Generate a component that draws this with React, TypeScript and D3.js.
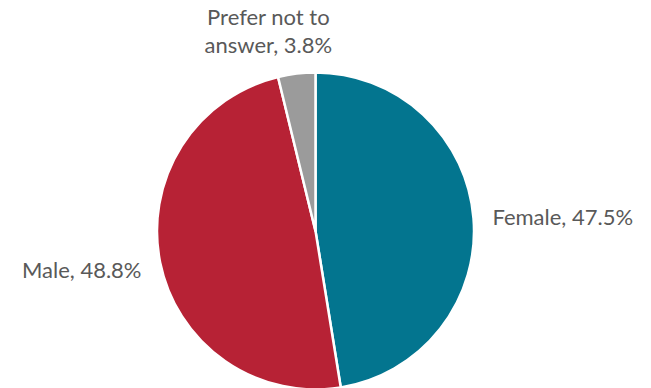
import React from "react";
import * as d3 from "d3";

const categories = ["Female", "Male", "Prefer not to answer"];
const values = [47.5, 48.8, 3.8];
const labelLines = [["Female, 47.5%"], ["Male, 48.8%"], ["Prefer not to", "answer, 3.8%"]];
const colors = ["#03758F", "#B72235", "#9B9B9B"];

const W = 651;
const H = 388;
const cx = 315.5;
const cy = 231;
const R = 158.5;
const labelDy = [8, 12, -2];

export default function App() {
  const pie = d3.pie<number>().sort(null).value((d) => d);
  const arcs = pie(values);
  const arc = d3.arc<d3.PieArcDatum<number>>().innerRadius(0).outerRadius(R);
  const labelR = R + 19;

  return (
    <div style={{ position: "absolute", left: 0, top: 0 }}>
      <svg width={W} height={H} style={{ display: "block" }}>
        <rect width={W} height={H} fill="#ffffff" />
        <g transform={`translate(${cx},${cy})`}>
          {arcs.map((a, i) => (
            <path key={categories[i]} d={arc(a) || ""} fill={colors[i]} stroke="#ffffff" strokeWidth={2.5} strokeLinejoin="round" />
          ))}
          {arcs.map((a, i) => {
            const mid = (a.startAngle + a.endAngle) / 2;
            const x = Math.sin(mid) * labelR;
            const y = -Math.cos(mid) * labelR;
            const lines = labelLines[i];
            const top = lines.length > 1;
            const anchor = top ? "middle" : x > 0 ? "start" : "end";
            const lh = 28;
            const tx = top ? x - 26 : x;
            const baseY = (top ? y - (lines.length - 1) * lh : y) + labelDy[i];
            return (
              <text key={categories[i]} x={tx} y={baseY} textAnchor={anchor} fontFamily="Lato, 'Open Sans', sans-serif" fontSize={22} fill="#595959">
                {lines.map((l, j) => (
                  <tspan key={j} x={tx} y={baseY + j * lh}>{l}</tspan>
                ))}
              </text>
            );
          })}
        </g>
      </svg>
    </div>
  );
}
